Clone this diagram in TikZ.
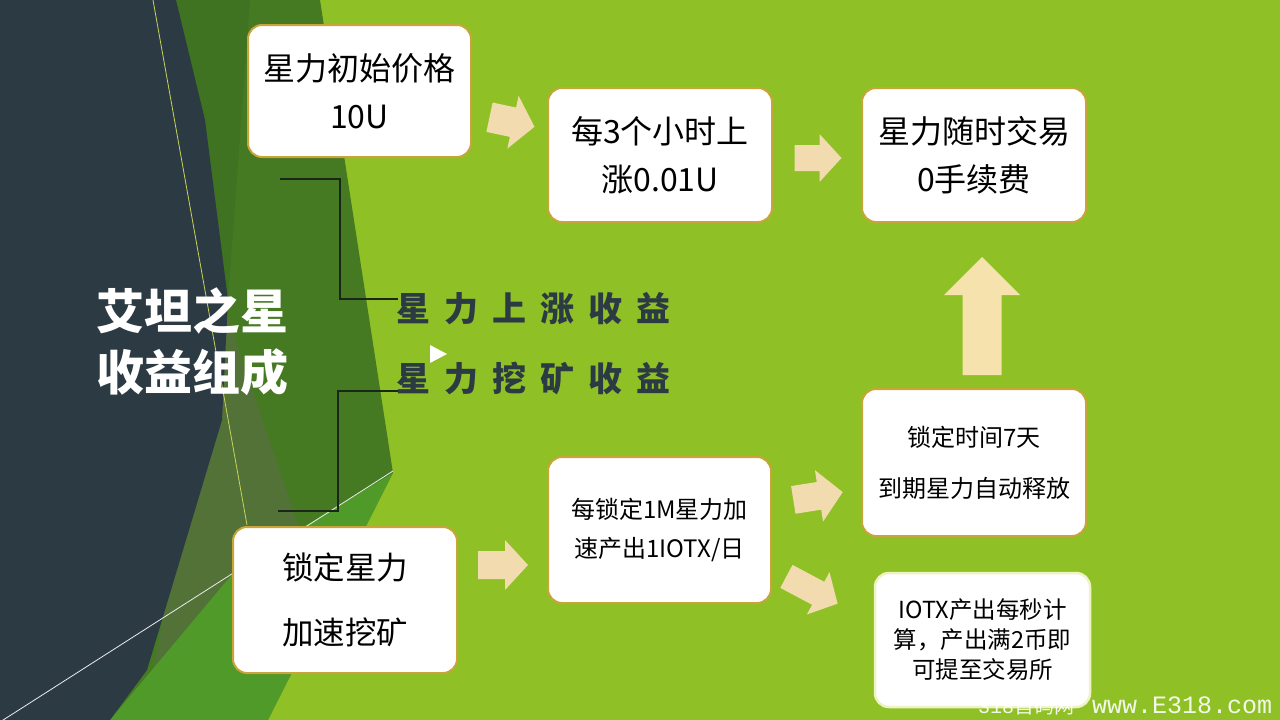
\documentclass[tikz,border=0pt]{standalone}
\usepackage{fontspec}
\newfontfamily\cjk{Noto Sans CJK SC}
\newfontfamily\wmono{Liberation Mono}
\definecolor{lime}{HTML}{8FC126}
\definecolor{dkgreen}{HTML}{457A22}
\definecolor{dkgreen2}{HTML}{3C6D21}
\definecolor{olivegr}{HTML}{5A7040}
\definecolor{midgreen}{HTML}{509A2A}
\definecolor{slate}{HTML}{2C3B43}
\definecolor{gold}{HTML}{C9A43A}
\definecolor{paleborder}{HTML}{EEF2C4}
\definecolor{arrowfill}{HTML}{F2DBAE}
\definecolor{uparrow}{HTML}{F5E2AC}
\definecolor{bracketc}{HTML}{1A261A}
\definecolor{yline}{HTML}{C8D458}
\newcommand\gp{\hspace{14pt}}
\newcommand\barrow[8]{% x y rot L H s h color
  \fill[#8, shift={(#1,#2)}, rotate=#3]
    ({-#4/2},{-#6}) -- ({#4/2-#7},{-#6}) -- ({#4/2-#7},{-#5}) -- ({#4/2},0)
    -- ({#4/2-#7},{#5}) -- ({#4/2-#7},{#6}) -- ({-#4/2},{#6}) -- cycle;}
\tikzset{
  box/.style={draw=gold, line width=2pt, fill=white, rounded corners=14pt,
    inner sep=0pt, align=center, text=black},
  bigtxt/.style={font={\cjk\fontsize{32}{48}\selectfont}},
  lab/.style={text=slate, font={\cjk\bfseries\fontsize{34}{40}\selectfont}, inner sep=0pt, anchor=west},
  bracket/.style={draw=bracketc, line width=1.3pt},
  wmark/.style={text=white, opacity=0.9, anchor=base west, inner sep=0pt},
}
\begin{document}
\begin{tikzpicture}[x=1pt,y=-1pt]
\useasboundingbox (0,0) rectangle (1280,720);
\clip (0,0) rectangle (1280,720);
% background facets
\fill[lime] (0,0) rectangle (1280,720);
\fill[dkgreen] (176,0) -- (320,0) -- (393,473) -- (268,720) -- (100,720) -- cycle;
\fill[dkgreen2, opacity=0.6] (176,0) -- (250,0) -- (228,300) -- cycle;
\fill[olivegr, opacity=0.7] (222,300) -- (305,545) -- (150,690) -- cycle;
\fill[midgreen] (110,720) -- (240,565) -- (393,473) -- (268,720) -- cycle;
\fill[lime, opacity=0.5] (268,720) -- (393,473) -- (370,720) -- cycle;
\fill[slate] (0,0) -- (176,0) -- (205,120) -- (228,300) -- (222,420) -- (147,670) -- (110,720) -- (0,720) -- cycle;
\draw[yline, line width=0.8pt] (153,0) -- (247,525);
\draw[white!85!gray, line width=0.8pt] (0,722) -- (393,471);
% title
\node[text=white, align=center, inner sep=0pt, font={\cjk\bfseries\fontsize{48}{61}\selectfont}] (title) at (192,342) {艾坦之星\\收益组成};
% boxes
\node[box, bigtxt, minimum width=223pt, minimum height=132pt] (A) at (359.5,91) {星力初始价格\\10U};
\node[box, bigtxt, minimum width=224pt, minimum height=134pt] (B) at (660,155) {每3个小时上\\涨0.01U};
\node[box, bigtxt, minimum width=224pt, minimum height=134pt] (C) at (974,155) {星力随时交易\\0手续费};
\node[box, font={\cjk\fontsize{31.5}{65}\selectfont}, minimum width=224pt, minimum height=146pt] (D) at (345,600) {锁定星力\\加速挖矿};
\node[box, font={\cjk\fontsize{24}{39}\selectfont}, minimum width=223pt, minimum height=146pt] (E) at (659.5,530) {每锁定1M星力加\\速产出1IOTX/日};
\node[box, font={\cjk\fontsize{24}{51}\selectfont}, minimum width=224pt, minimum height=147pt] (F) at (974,462.5) {锁定时间7天\\到期星力自动释放};
\node[box, draw=paleborder, line width=2.5pt, font={\cjk\fontsize{23.5}{30}\selectfont}, minimum width=215pt, minimum height=134pt] (G) at (982.5,640) {IOTX产出每秒计\\算，产出满2币即\\可提至交易所};
% block arrows
\barrow{512}{122}{-12}{46}{27}{15}{22}{arrowfill}
\barrow{818}{158}{0}{47}{24}{13}{22}{arrowfill}
\barrow{982}{316}{90}{118}{38}{19.5}{38}{uparrow}
\barrow{503}{565}{0}{50}{25}{14}{23}{arrowfill}
\barrow{818}{496}{9}{50}{26}{14}{24}{arrowfill}
\barrow{812}{590}{-28}{58}{24}{13}{22}{arrowfill}
% labels
\node[lab] (lab1) at (396,309) {星\gp 力\gp 上\gp 涨\gp 收\gp 益};
\node[lab] (lab2) at (396,379) {星\gp 力\gp 挖\gp 矿\gp 收\gp 益};
% brackets
\coordinate (b1s) at (280,179);
\coordinate (b1e) at (398,299);
\coordinate (b2s) at (278,511);
\coordinate (b2e) at (398,391);
\draw[bracket] (b1s) -| (340,299) -- (b1e);
\draw[bracket] (b2s) -| (338,391) -- (b2e);
% play marker
\fill[white] (430,345) -- (430,363) -- (447,354) -- cycle;
% watermark
\node[wmark, font={\cjk\fontsize{20}{20}\selectfont}] (wm1) at (978,713) {{\wmono 318}首码网};
\node[wmark, font={\wmono\fontsize{25}{25}\selectfont}] (wm2) at (1092,713) {www.E318.com};
\end{tikzpicture}
\end{document}
